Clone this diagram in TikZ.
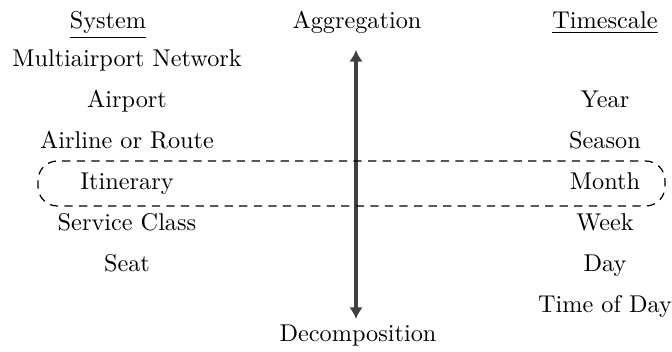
\documentclass[tikz,border=0pt]{standalone}
\usetikzlibrary{arrows.meta}
\begin{document}
\begin{tikzpicture}[x=0.412pt,y=-0.412pt,
  lbl/.style={inner sep=0pt,anchor=base},
  arr/.style={draw=black!75,line width=1.25pt,{Latex[length=4.8pt,width=5.6pt]}-{Latex[length=4.8pt,width=5.6pt]}},
  grp/.style={draw,dash pattern=on 3.4pt off 2.6pt,line width=0.5pt,rounded corners=8pt}]
\useasboundingbox (0,0) rectangle (672,352);
% headers
\node[lbl] (sys) at (108,29) {\underline{System}};
\node[lbl] (agg) at (357,29) {Aggregation};
\node[lbl] (ts) at (605,29) {\underline{Timescale}};
\node[lbl] (dec) at (358,342) {Decomposition};
% left column
\node[lbl] (s1) at (127,67) {Multiairport Network};
\node[lbl] (s2) at (127,108) {Airport};
\node[lbl] (s3) at (127,149) {Airline or Route};
\node[lbl] (s4) at (127,190) {Itinerary};
\node[lbl] (s5) at (127,231) {Service Class};
\node[lbl] (s6) at (127,272) {Seat};
% right column
\node[lbl] (t1) at (605,108) {Year};
\node[lbl] (t2) at (605,149) {Season};
\node[lbl] (t3) at (605,190) {Month};
\node[lbl] (t4) at (605,231) {Week};
\node[lbl] (t5) at (605,272) {Day};
\node[lbl] (t6) at (605,313) {Time of Day};
% arrow
\coordinate (atop) at (356,50);
\coordinate (abot) at (356,319);
\draw[arr] (abot) -- (atop);
% dashed group
\coordinate (g1) at (38,161);
\coordinate (g2) at (665,206);
\draw[grp] (g1) rectangle (g2);
\end{tikzpicture}
\end{document}
